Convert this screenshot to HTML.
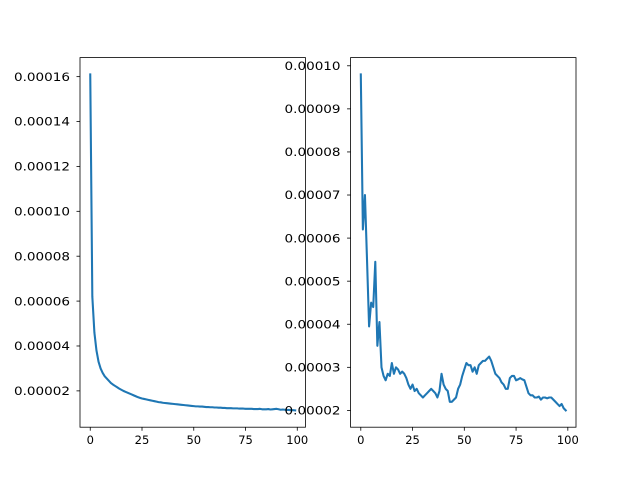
<!DOCTYPE html>
<html><head><meta charset="utf-8"><style>
html,body{margin:0;padding:0;background:#fff}
svg{display:block;font-family:"DejaVu Sans","Liberation Sans",sans-serif}
</style></head><body>
<svg id="fig" width="640" height="480" viewBox="0 0 640 480"></svg>
<script>
const xTicks=[0,25,50,75,100];
const leftYTicks=[2,4,6,8,10,12,14,16];
const rightYTicks=[2,3,4,5,6,7,8,9,10];
const leftValues=[16.1,6.2,4.6,3.8,3.3,3.0,2.8,2.65,2.55,2.45,2.35,2.28,2.22,2.16,2.1,2.05,2.0,1.96,1.92,1.88,1.84,1.8,1.76,1.72,1.69,1.66,1.64,1.62,1.6,1.58,1.56,1.54,1.52,1.5,1.49,1.47,1.46,1.45,1.44,1.43,1.42,1.41,1.4,1.39,1.38,1.37,1.36,1.35,1.34,1.33,1.32,1.31,1.31,1.3,1.3,1.29,1.28,1.28,1.27,1.27,1.26,1.26,1.25,1.25,1.24,1.24,1.23,1.23,1.23,1.22,1.22,1.22,1.21,1.21,1.21,1.2,1.2,1.2,1.2,1.19,1.19,1.19,1.2,1.18,1.18,1.18,1.19,1.17,1.18,1.19,1.2,1.18,1.16,1.17,1.16,1.15,1.15,1.14,1.14,1.13];
const rightValues=[9.8,6.2,7.0,5.5,3.95,4.5,4.4,5.45,3.5,4.05,3.0,2.8,2.7,2.85,2.8,3.1,2.85,3.0,2.95,2.85,2.9,2.85,2.75,2.6,2.5,2.6,2.45,2.5,2.4,2.35,2.3,2.35,2.4,2.45,2.5,2.45,2.4,2.3,2.45,2.85,2.6,2.5,2.45,2.2,2.2,2.25,2.3,2.5,2.6,2.8,2.95,3.1,3.05,3.05,2.9,3.0,2.85,3.05,3.1,3.15,3.15,3.2,3.25,3.15,3.0,2.85,2.8,2.75,2.65,2.6,2.5,2.5,2.75,2.8,2.8,2.7,2.72,2.75,2.72,2.7,2.55,2.4,2.35,2.35,2.3,2.3,2.32,2.25,2.3,2.3,2.28,2.3,2.3,2.25,2.2,2.15,2.1,2.15,2.05,2.0];
const leftLabels=["0.00002","0.00004","0.00006","0.00008","0.00010","0.00012","0.00014","0.00016"];
const rightLabels=["0.00002","0.00003","0.00004","0.00005","0.00006","0.00007","0.00008","0.00009","0.00010"];
const NS="http://www.w3.org/2000/svg";
const svg=document.getElementById('fig');
function mk(tag,attrs,parent){const e=document.createElementNS(NS,tag);for(const k in attrs)e.setAttribute(k,attrs[k]);(parent||svg).appendChild(e);return e;}
function drawAxes(name,x0,x1,values,yTicks,yLabels){
  const top=57.6,bot=427.2;
  const n=values.length;
  const xr=(n-1)*0.05, xmin=-xr, xmax=n-1+xr;
  const mn=Math.min(...values), mx=Math.max(...values), m=(mx-mn)*0.05;
  const ymin=mn-m, ymax=mx+m;
  const X=v=>x0+(v-xmin)/(xmax-xmin)*(x1-x0);
  const Y=v=>bot-(v-ymin)/(ymax-ymin)*(bot-top);
  const g=mk('g',{});
  
  
  let d=values.map((v,i)=>(i?'L':'M')+X(i).toFixed(2)+' '+Y(v).toFixed(2)).join(' ');
  const line=mk('path',{d:d,fill:'none',stroke:'#1f77b4','stroke-width':2.08,'stroke-linejoin':'round','stroke-linecap':'square'},g);
  
  
  xTicks.forEach(t=>{const x=X(t);
    mk('line',{x1:x,x2:x,y1:bot,y2:bot+3.5,stroke:'#000','stroke-width':0.8},g);
    const tx=mk('text',{x:x,y:bot+17,'font-size':11.5,'text-anchor':'middle',fill:'#000'},g);tx.textContent=t;
    
    });
  yTicks.forEach((t,i)=>{const y=Y(t);
    mk('line',{x1:x0,x2:x0-3.5,y1:y,y2:y,stroke:'#000','stroke-width':0.8},g);
    const tx=mk('text',{x:x0-66,y:y+4.2,'font-size':11.5,'text-anchor':'start',fill:'#000',textLength:56,lengthAdjust:'spacingAndGlyphs'},g);tx.textContent=yLabels[i];
    
    });
  const fr=mk('rect',{x:x0,y:top,width:x1-x0,height:bot-top,fill:'none',stroke:'#000','stroke-width':0.8},g);
  
  
}
drawAxes('left-axes',80,305.45,leftValues,leftYTicks,leftLabels);
drawAxes('right-axes',350.55,576,rightValues,rightYTicks,rightLabels);
</script>
</body></html>
